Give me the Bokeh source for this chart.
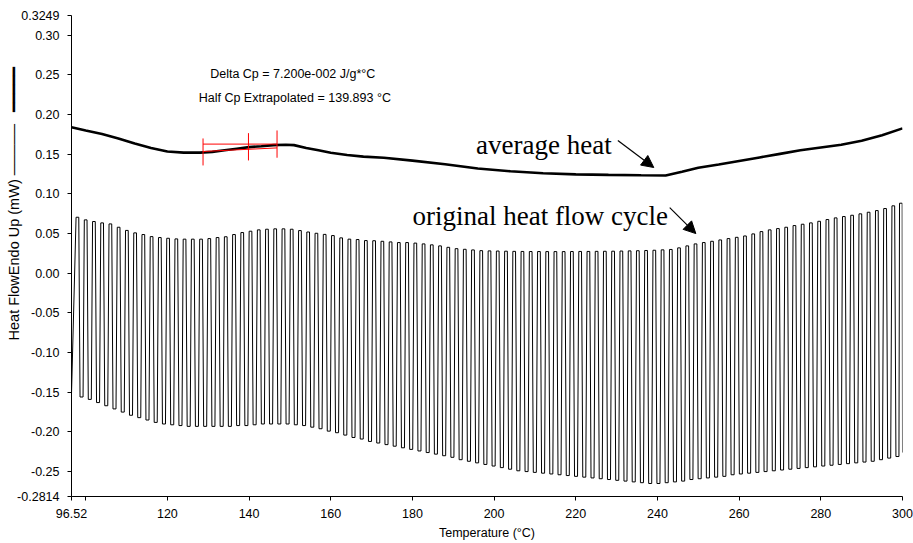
import numpy as np
from bokeh.plotting import figure
from bokeh.models import Range1d, FixedTicker, NumeralTickFormatter, Label, Arrow, NormalHead
from bokeh.embed import file_html
from bokeh.resources import INLINE

# ---------------- data ----------------
# average heat flow, thick black curve
avg_T = [96.52, 100, 104, 108, 112, 116, 120, 124, 128, 131, 134, 137, 140, 143, 146, 149,
         151, 154, 157, 160, 164, 168, 173, 180, 188, 196, 204, 212, 220, 228, 236, 242,
         246, 250, 255, 260, 265, 270, 275, 280, 285, 290, 295, 300]
avg_hf = [0.184, 0.180, 0.1755, 0.170, 0.1635, 0.158, 0.1535, 0.152, 0.152, 0.153, 0.155,
          0.157, 0.159, 0.160, 0.1615, 0.162, 0.1615, 0.158, 0.155, 0.152, 0.149, 0.147,
          0.1455, 0.142, 0.1375, 0.132, 0.1285, 0.126, 0.1247, 0.124, 0.1235, 0.1232,
          0.128, 0.133, 0.137, 0.1415, 0.146, 0.1505, 0.155, 0.1585, 0.162, 0.167, 0.174, 0.1826]

# modulated heat flow: temperature and value of every cycle maximum
peak_T = [97.97, 99.99, 102.01, 104.02, 106.04, 108.06, 110.08, 112.10, 114.11, 116.13,
          118.15, 120.17, 122.19, 124.20, 126.22, 128.24, 130.26, 132.28, 134.29, 136.31,
          138.33, 140.35, 142.37, 144.38, 146.40, 148.42, 150.44, 152.46, 154.47, 156.49,
          158.51, 160.53, 162.55, 164.56, 166.58, 168.60, 170.62, 172.64, 174.65, 176.67,
          178.69, 180.71, 182.73, 184.74, 186.76, 188.78, 190.80, 192.82, 194.83, 196.85,
          198.87, 200.89, 202.91, 204.92, 206.94, 208.96, 210.98, 213.00, 215.01, 217.03,
          219.05, 221.07, 223.09, 225.10, 227.12, 229.14, 231.16, 233.18, 235.19, 237.21,
          239.23, 241.25, 243.27, 245.28, 247.30, 249.32, 251.34, 253.36, 255.37, 257.39,
          259.41, 261.43, 263.45, 265.46, 267.48, 269.50, 271.52, 273.54, 275.55, 277.57,
          279.59, 281.61, 283.63, 285.64, 287.66, 289.68, 291.70, 293.72, 295.73, 297.75,
          299.60]
peak_hf = [0.0706, 0.0673, 0.0652, 0.0635, 0.0622, 0.0580, 0.0540, 0.0509, 0.0488, 0.0462,
           0.0450, 0.0441, 0.0433, 0.0430, 0.0430, 0.0430, 0.0437, 0.0450, 0.0460, 0.0488,
           0.0513, 0.0530, 0.0547, 0.0555, 0.0560, 0.0560, 0.0555, 0.0538, 0.0520, 0.0504,
           0.0490, 0.0475, 0.0446, 0.0430, 0.0425, 0.0412, 0.0410, 0.0403, 0.0395, 0.0387,
           0.0387, 0.0380, 0.0370, 0.0358, 0.0345, 0.0327, 0.0310, 0.0302, 0.0294, 0.0285,
           0.0282, 0.0280, 0.0278, 0.0276, 0.0275, 0.0274, 0.0274, 0.0273, 0.0273, 0.0273,
           0.0274, 0.0275, 0.0275, 0.0276, 0.0277, 0.0278, 0.0280, 0.0282, 0.0284, 0.0287,
           0.0290, 0.0295, 0.0300, 0.0320, 0.0345, 0.0370, 0.0387, 0.0403, 0.0420, 0.0437,
           0.0453, 0.0470, 0.0496, 0.0525, 0.0547, 0.0563, 0.0580, 0.0601, 0.0618, 0.0635,
           0.0655, 0.0677, 0.0698, 0.0715, 0.0731, 0.0749, 0.0769, 0.0790, 0.0816, 0.0850,
           0.0883]
# temperature and value of every cycle minimum (first = start of data, last = end)
trough_T = [96.52,
            98.98, 101.00, 103.02, 105.03, 107.05, 109.07, 111.09, 113.11, 115.12, 117.14,
            119.16, 121.18, 123.20, 125.21, 127.23, 129.25, 131.27, 133.29, 135.30, 137.32,
            139.34, 141.36, 143.38, 145.39, 147.41, 149.43, 151.45, 153.47, 155.48, 157.50,
            159.52, 161.54, 163.56, 165.57, 167.59, 169.61, 171.63, 173.65, 175.66, 177.68,
            179.70, 181.72, 183.74, 185.75, 187.77, 189.79, 191.81, 193.83, 195.84, 197.86,
            199.88, 201.90, 203.92, 205.93, 207.95, 209.97, 211.99, 214.01, 216.02, 218.04,
            220.06, 222.08, 224.10, 226.11, 228.13, 230.15, 232.17, 234.19, 236.20, 238.22,
            240.24, 242.26, 244.28, 246.29, 248.31, 250.33, 252.35, 254.37, 256.38, 258.40,
            260.42, 262.44, 264.46, 266.47, 268.49, 270.51, 272.53, 274.55, 276.56, 278.58,
            280.60, 282.62, 284.64, 286.65, 288.67, 290.69, 292.71, 294.73, 296.74, 298.76,
            300.00]
trough_hf = [-0.152,
             -0.156, -0.159, -0.163, -0.167, -0.171, -0.175, -0.179, -0.182, -0.185, -0.188,
             -0.190, -0.191, -0.192, -0.193, -0.193, -0.193, -0.193, -0.193, -0.193, -0.192,
             -0.192, -0.191, -0.190, -0.190, -0.190, -0.190, -0.191, -0.192, -0.194, -0.196,
             -0.199, -0.201, -0.204, -0.207, -0.209, -0.212, -0.214, -0.216, -0.218, -0.220,
             -0.222, -0.224, -0.226, -0.228, -0.230, -0.232, -0.235, -0.237, -0.239, -0.241,
             -0.243, -0.245, -0.247, -0.249, -0.250, -0.251, -0.252, -0.253, -0.254, -0.255,
             -0.256, -0.257, -0.258, -0.259, -0.260, -0.261, -0.262, -0.263, -0.264, -0.265,
             -0.265, -0.264, -0.263, -0.262, -0.260, -0.259, -0.258, -0.257, -0.256, -0.254,
             -0.253, -0.252, -0.251, -0.250, -0.249, -0.248, -0.247, -0.246, -0.245, -0.244,
             -0.243, -0.242, -0.241, -0.240, -0.239, -0.238, -0.237, -0.235, -0.233, -0.231,
             -0.226]

# glass transition analysis markers (onset, half-Cp, end) and extrapolated baselines
tg_T = [128.73, 139.85, 146.85]
tg_low = [0.1359, 0.1422, 0.1456]
tg_high = [0.1699, 0.1766, 0.1800]
base_T = [128.73, 146.85]
base_post = [0.1628, 0.1628]
base_pre = [0.1535, 0.1580]

x_ticks = [96.52, 120, 140, 160, 180, 200, 220, 240, 260, 280, 300]
y_ticks = [-0.2814, -0.25, -0.20, -0.15, -0.10, -0.05, 0.0, 0.05, 0.10, 0.15, 0.20, 0.25, 0.30, 0.3249]

# ---------------- build the modulated trace ----------------
TOP = 0.33   # half width of a flat cycle top (deg C)
BOT = 0.37   # half width of a flat cycle bottom (deg C)
osc_x = [trough_T[0]]
osc_y = [trough_hf[0]]
for i in range(len(peak_T)):
    osc_x += [peak_T[i] - TOP, peak_T[i] + TOP]
    osc_y += [peak_hf[i], peak_hf[i]]
    j = i + 1
    if j < len(trough_T) - 1:
        osc_x += [trough_T[j] - BOT, trough_T[j] + BOT]
        osc_y += [trough_hf[j], trough_hf[j]]
    elif j < len(trough_T):
        osc_x.append(trough_T[j])
        osc_y.append(trough_hf[j])

FONT = "Liberation Sans"

p = figure(width=913, height=543, output_backend="svg", toolbar_location=None,
           x_range=Range1d(96.52, 300), y_range=Range1d(-0.2814, 0.3249),
           min_border_left=71, min_border_right=11, min_border_top=15, min_border_bottom=47)
p.xgrid.visible = False
p.ygrid.visible = False
p.outline_line_color = None
p.background_fill_color = "white"
p.border_fill_color = "white"

p.line(osc_x, osc_y, line_color="black", line_width=1)
p.line(avg_T, avg_hf, line_color="black", line_width=2.6)
p.segment(x0=tg_T, y0=tg_low, x1=tg_T, y1=tg_high, line_color="#ff0000", line_width=1)
p.line(base_T, base_post, line_color="#ff0000", line_width=1)
p.line(base_T, base_pre, line_color="#ff0000", line_width=1)

# axes
xa = p.xaxis[0]
xa.ticker = FixedTicker(ticks=x_ticks, minor_ticks=[100])
xa.formatter = NumeralTickFormatter(format="0")
xa.major_label_overrides = {96.52: "96.52"}
xa.axis_label = "Temperature (°C)"
ya = p.yaxis[0]
ya.ticker = FixedTicker(ticks=y_ticks, minor_ticks=[])
ya.formatter = NumeralTickFormatter(format="0.00")
ya.major_label_overrides = {0.3249: "0.3249", -0.2814: "-0.2814"}
# y title, followed by the keys of the two curves (thin = modulated, thick = average)
NB = "\u00a0"
ya.axis_label = (NB * 26 + "Heat FlowEndo Up (mW)" + NB + "\u2500" * 5 + NB * 3 + "\u2501" * 5)
for ax in (xa, ya):
    ax.axis_line_color = "black"
    ax.major_tick_line_color = "black"
    ax.minor_tick_line_color = "black"
    ax.major_tick_in = 0
    ax.major_tick_out = 4
    ax.minor_tick_in = 0
    ax.minor_tick_out = 4
    ax.major_label_text_font = FONT
    ax.major_label_text_font_size = "12.5px"
    ax.major_label_text_color = "black"
    ax.axis_label_text_font = FONT
    ax.axis_label_text_font_style = "normal"
    ax.axis_label_text_color = "black"
xa.axis_label_text_font_size = "12.5px"
ya.axis_label_text_font_size = "14.5px"
xa.major_label_standoff = 8
xa.axis_label_standoff = 5
ya.major_label_standoff = 8
ya.axis_label_standoff = -8

# annotations
p.add_layout(Label(x=150.7, y=0.2508, text="Delta Cp = 7.200e-002 J/g*°C", text_align="center",
                   text_baseline="middle", text_font=FONT, text_font_size="12.5px", text_color="black"))
p.add_layout(Label(x=151.2, y=0.2205, text="Half Cp Extrapolated = 139.893 °C", text_align="center",
                   text_baseline="middle", text_font=FONT, text_font_size="12.5px", text_color="black"))
p.add_layout(Label(x=212.2, y=0.1611, text="average heat", text_align="center",
                   text_baseline="alphabetic", text_font="Liberation Serif", text_font_size="27px",
                   text_color="black"))
p.add_layout(Label(x=211.3, y=0.0727, text="original heat flow cycle", text_align="center",
                   text_baseline="alphabetic", text_font="Liberation Serif", text_font_size="27px",
                   text_color="black"))
p.add_layout(Arrow(end=NormalHead(size=12, fill_color="black", fill_alpha=1.0, line_color="black"),
                   x_start=230.3, y_start=0.1674, x_end=239.1, y_end=0.1333,
                   line_color="black", line_width=1.2))
p.add_layout(Arrow(end=NormalHead(size=12, fill_color="black", fill_alpha=1.0, line_color="black"),
                   x_start=243.0, y_start=0.0828, x_end=249.4, y_end=0.050,
                   line_color="black", line_width=1.2))

open("out.html", "w").write(file_html(p, INLINE))
